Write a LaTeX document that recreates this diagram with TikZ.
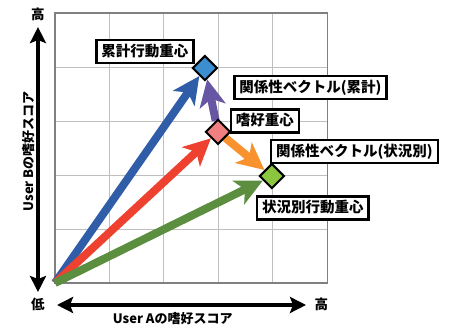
\documentclass[tikz,border=0pt]{standalone}
\usepackage{fontspec}
\setmainfont{Noto Sans CJK JP}
\usetikzlibrary{arrows.meta,shapes.geometric}

\definecolor{sumblue}{HTML}{2F5DA8}
\definecolor{prefred}{HTML}{EE4130}
\definecolor{sitgreen}{HTML}{5B8F3F}
\definecolor{relpurple}{HTML}{6756A3}
\definecolor{relorange}{HTML}{F7922F}
\definecolor{sumfill}{HTML}{3B8ED0}
\definecolor{preffill}{HTML}{F08080}
\definecolor{sitfill}{HTML}{8CC63F}

\pgfdeclarelayer{bg}
\pgfsetlayers{bg,main}

\tikzset{
  gridline/.style={draw=black!25, line width=1pt},
  centroid/.style={diamond, draw=black, line width=2pt, inner sep=0pt,
    minimum width=25pt, minimum height=25pt},
  labelbox/.style={rectangle, draw=black, fill=white, line width=2.5pt,
    inner xsep=5pt, inner ysep=4pt, text height=12pt, text depth=3pt,
    font=\fontsize{14.5}{16}\selectfont\bfseries},
  vec/.style={line width=8pt, -{Stealth[length=27pt,width=26pt,inset=7pt]}},
  axis/.style={line width=4pt,
    {Stealth[length=16pt,width=16pt,inset=3pt]}-{Stealth[length=16pt,width=16pt,inset=3pt]}},
  axislabel/.style={font=\fontsize{13}{14}\selectfont\bfseries},
  scalelabel/.style={font=\fontsize{13.5}{14}\selectfont\bfseries},
}

\begin{document}
\begin{tikzpicture}[x=54.5pt, y=54pt]
  \useasboundingbox (-1.009,-0.796) rectangle (7.248,5.241);

  % Centroids
  \node[centroid, fill=sumfill] (sum) at (2.75,3.98) {};
  \node[centroid, fill=preffill] (pref) at (2.99,2.80) {};
  \node[centroid, fill=sitfill] (sit) at (3.98,1.98) {};
  \coordinate (o) at (0,0);

  \begin{pgfonlayer}{bg}
    % Grid
    \foreach \i in {1,...,4} {
      \draw[gridline] (\i,0) -- (\i,5);
      \draw[gridline] (0,\i) -- (5,\i);
    }
    \draw[draw=black!50, line width=1.5pt] (0,0) rectangle (5,5);

    % Vectors from the origin
    \draw[vec, sumblue] (o) -- (sum);
    \draw[vec, prefred] (o) -- (pref);
    \draw[vec, sitgreen] (o) -- (sit);

    % Relation vectors
    \draw[vec, relpurple] (pref) -- (sum);
    \draw[vec, relorange] (pref) -- (sit);
  \end{pgfonlayer}

  % Labels
  \node[labelbox] (sumlbl) at (1.651,4.283) {累計行動重心};
  \node[labelbox] (rel1lbl) at (4.688,3.620) {関係性ベクトル(累計)};
  \node[labelbox] (preflbl) at (3.853,3.0) {嗜好重心};
  \node[labelbox] (rel2lbl) at (5.495,2.435) {関係性ベクトル(状況別)};
  \node[labelbox] (sitlbl) at (4.734,1.389) {状況別行動重心};

  % Axes
  \node[scalelabel] (yhigh) at (-0.312,4.98) {高};
  \node[scalelabel] (low) at (-0.312,-0.389) {低};
  \node[scalelabel] (xhigh) at (4.89,-0.389) {高};
  \coordinate (ytop) at (-0.312,4.74);
  \coordinate (ybot) at (-0.312,-0.167);
  \coordinate (xleft) at (0.037,-0.407);
  \coordinate (xright) at (4.606,-0.407);
  \draw[axis] (ytop) -- (ybot);
  \draw[axis] (xleft) -- (xright);
  \node[axislabel] (xlbl) at (2.16,-0.66) {User Aの嗜好スコア};
  \node[axislabel, rotate=90] (ylbl) at (-0.477,2.44) {User Bの嗜好スコア};
\end{tikzpicture}
\end{document}
